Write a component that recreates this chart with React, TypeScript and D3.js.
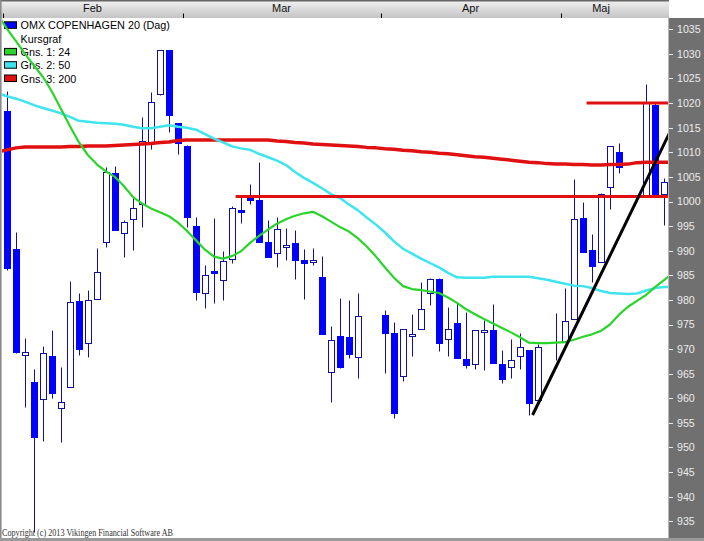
import React from "react";
import * as d3 from "d3";

// ---- data ----
// slot = weekday index counted from 1 Feb 2013; holidays are empty slots
const candleSlots = [
  0, 1, 2, 3, 4, 5, 6, 7, 8, 9, 10, 11, 12, 13, 14, 15, 16, 17, 18, 19,
  20, 21, 22, 23, 24, 25, 26, 27, 28, 29, 30, 31, 32, 33, 34, 35, 36, 37, 38, 39,
  42, 43, 44, 45, 46, 47, 48, 49, 50, 51, 52, 53, 54, 55, 56, 57, 58, 59,
  61, 62, 63, 64, 65, 66, 67, 68,
  71, 72, 73,
];
const opens = [
  1018.4, 990.3, 968.8, 963.3, 959.9, 968.6, 958.0, 962.3, 979.8, 971.3, 980.2, 991.8, 1005.8, 993.6, 996.4, 999.5, 1012.1, 1021.8, 1030.8, 1015.9,
  1011.3, 995.0, 981.4, 985.9, 984.0, 988.3, 998.3, 1000.9, 1000.3, 991.8, 989.5, 990.8, 991.6, 988.1, 987.7, 984.6, 965.3, 972.6, 972.4, 968.4,
  976.9, 973.3, 964.5, 972.7, 974.1, 981.4, 984.2, 972.0, 975.3, 968.0, 967.0, 973.5, 973.9, 967.0, 966.3, 968.6, 969.8, 959.7,
  973.5, 971.7, 976.1, 996.6, 990.1, 987.7, 1002.9, 1010.0,
  1001.3, 1019.6, 1001.5,
];
const highs = [
  1022.5, 993.8, 972.3, 966.0, 970.6, 973.9, 966.3, 983.8, 981.4, 982.0, 990.5, 1007.0, 1007.2, 996.2, 1000.7, 1017.2, 1022.3, 1030.8, 1030.8, 1016.0,
  1011.4, 996.9, 987.1, 996.6, 989.9, 999.1, 1000.9, 1003.6, 1008.0, 996.2, 996.8, 994.6, 994.2, 990.3, 990.5, 988.9, 974.7, 980.4, 980.0, 981.4,
  978.0, 975.5, 974.1, 977.1, 983.6, 984.5, 984.5, 978.6, 979.4, 977.5, 973.9, 975.9, 979.2, 969.8, 972.0, 973.3, 969.8, 971.0,
  977.3, 982.4, 1004.5, 999.9, 993.4, 1001.7, 1011.3, 1011.9,
  1023.9, 1020.0, 1004.8,
];
const lows = [
  986.0, 969.2, 958.2, 932.8, 951.3, 960.1, 951.1, 962.3, 968.8, 968.4, 980.2, 990.8, 994.2, 988.7, 990.1, 994.8, 1010.7, 1021.6, 1014.1, 1009.6,
  994.8, 980.0, 978.4, 979.4, 979.9, 987.5, 995.6, 999.5, 991.8, 988.7, 986.7, 988.1, 984.3, 980.2, 987.1, 973.1, 959.3, 966.1, 968.2, 964.1,
  965.1, 956.0, 963.5, 968.6, 974.1, 979.0, 969.6, 968.6, 968.2, 966.1, 965.9, 965.7, 967.2, 963.1, 964.1, 965.9, 956.6, 959.7,
  967.7, 971.7, 976.1, 989.7, 983.6, 987.7, 998.5, 1005.8,
  1001.3, 1001.3, 995.2,
];
const closes = [
  986.5, 969.4, 969.4, 952.1, 969.2, 961.1, 959.3, 979.6, 970.0, 980.0, 985.7, 1006.0, 994.2, 995.8, 998.7, 1012.3, 1020.2, 1030.8, 1017.6, 1011.9,
  996.8, 981.6, 985.1, 985.5, 987.9, 998.7, 997.9, 1000.3, 991.8, 988.7, 994.4, 991.2, 988.1, 987.5, 988.1, 973.1, 971.8, 966.3, 969.0, 976.7,
  973.3, 957.0, 974.1, 973.1, 978.2, 984.2, 971.2, 974.1, 968.2, 966.7, 973.9, 973.9, 967.2, 963.9, 967.8, 970.4, 959.1, 970.4,
  973.5, 975.7, 996.4, 989.7, 986.9, 1001.5, 1011.3, 1007.0,
  1020.0, 1001.3, 1004.0,
];

// moving averages, one value per slot starting at slot -1
const maFirstSlot = -1;
const ma24 = [
  1037.9, 1035.1, 1032.6, 1030.0, 1027.6, 1025.3, 1022.3, 1018.8, 1015.3, 1012.0, 1009.4, 1007.5, 1006.1, 1005.0, 1003.1, 1000.9,
  999.6, 998.6, 997.8, 997.0, 995.7, 994.0, 992.1, 990.2, 988.8, 988.4, 988.9, 989.9, 991.6, 993.0, 994.3, 995.5,
  996.4, 997.1, 997.6, 997.9, 997.0, 995.9, 994.8, 993.9, 992.5, 990.8, 988.8, 986.6, 984.5, 982.8, 982.2, 982.0,
  981.7, 981.4, 980.5, 979.4, 978.1, 977.1, 976.1, 975.2, 974.3, 973.4, 972.4, 971.3, 971.2, 971.2, 971.3, 971.4,
  971.9, 972.5, 973.0, 973.7, 975.0, 977.0, 978.6, 979.8, 981.0, 982.6, 984.0, 985.5,
];
const ma50 = [
  1022.0, 1021.4, 1020.9, 1020.3, 1019.6, 1019.0, 1018.5, 1017.9, 1017.2, 1016.4, 1016.2, 1016.0, 1015.9, 1015.8, 1015.6, 1015.2,
  1014.9, 1014.9, 1015.2, 1015.5, 1015.2, 1015.0, 1014.6, 1013.7, 1012.8, 1012.0, 1011.2, 1010.8, 1010.5, 1009.7, 1009.0, 1008.3,
  1007.4, 1006.0, 1004.8, 1003.8, 1002.7, 1001.5, 1000.7, 999.4, 998.2, 996.7, 995.3, 993.7, 991.9, 990.4, 989.4, 988.4,
  987.5, 986.6, 985.5, 984.6, 984.5, 984.5, 984.5, 984.7, 984.7, 984.7, 984.7, 984.7, 984.4, 984.1, 983.7, 983.3,
  982.9, 982.8, 982.4, 981.8, 981.4, 981.3, 981.2, 981.3, 981.9, 982.4, 982.6, 982.6,
];
const ma200 = [
  1010.1, 1010.5, 1010.9, 1011.1, 1011.1, 1011.1, 1011.1, 1011.1, 1011.2, 1011.2, 1011.3, 1011.3, 1011.3, 1011.4, 1011.5, 1011.6,
  1011.7, 1011.8, 1012.0, 1012.1, 1012.4, 1012.5, 1012.5, 1012.5, 1012.5, 1012.5, 1012.5, 1012.5, 1012.5, 1012.5, 1012.5, 1012.3,
  1012.2, 1012.0, 1011.9, 1011.7, 1011.6, 1011.5, 1011.4, 1011.3, 1011.2, 1011.0, 1010.9, 1010.7, 1010.6, 1010.4, 1010.3, 1010.1,
  1010.0, 1009.8, 1009.7, 1009.5, 1009.3, 1009.1, 1009.0, 1008.8, 1008.6, 1008.4, 1008.2, 1008.0, 1007.9, 1007.7, 1007.6, 1007.6,
  1007.5, 1007.5, 1007.4, 1007.4, 1007.5, 1007.5, 1007.6, 1007.9, 1008.0, 1008.0, 1008.0, 1008.0,
];

const priceTicks = [935, 940, 945, 950, 955, 960, 965, 970, 975, 980, 985, 990, 995, 1000, 1005, 1010, 1015, 1020, 1025, 1030, 1035];

const monthLabels = ["Feb", "Mar", "Apr", "Maj"];
const monthBoundarySlots = [-0.5, 19.5, 41.5, 61.5, 70.5];

const legendLabels = ["OMX COPENHAGEN 20 (Dag)", "Kursgraf", "Gns. 1: 24", "Gns. 2: 50", "Gns. 3: 200"];

// user-drawn lines
const levelPrices = [1001, 1020];
const levelStartSlots = [25.4, 64.4];
const trendSlots = [58.4, 73.6];
const trendPrices = [956.6, 1013.9];

// ---- styles ----
const GREEN = "#2bd42b";
const CYAN = "#3ee4ee";
const RED = "#e01010";
const BLUE = "#0000ff";
const NAVY = "#10109a";
const legendColors = [BLUE, null, GREEN, CYAN, RED];

export default function App() {
  const W = 704;
  const H = 541;
  const plot = { left: 2, right: 669, top: 18, bottom: 538 };

  const x = d3.scaleLinear().domain([0, 73]).range([7, 664]);
  const y = d3.scaleLinear().domain([935, 1035]).range([521.3, 29.3]);

  const line = d3
    .line<[number, number]>()
    .x((d) => x(d[0]))
    .y((d) => y(d[1]));
  const maPath = (arr: number[]) => line(arr.map((v, i) => [maFirstSlot + i, v] as [number, number])) || "";

  const font = "'Liberation Sans', Arial, Helvetica, sans-serif";

  const candles = candleSlots.map((s, i) => {
    const o = opens[i];
    const c = closes[i];
    const h = highs[i];
    const l = lows[i];
    const px = Math.round(x(s));
    const up = c >= o;
    const yTop = Math.round(y(Math.max(o, c))) + 0.5;
    const yBot = Math.round(y(Math.min(o, c))) + 0.5;
    const yH = Math.round(y(h)) + 0.5;
    const yL = Math.round(y(l)) + 0.5;
    return (
      <g key={"c" + s}>
        <line x1={px + 0.5} x2={px + 0.5} y1={yH} y2={yL} stroke={NAVY} strokeWidth={1} />
        {o !== c && (
          <rect
            x={px - 2.5}
            y={yTop}
            width={6}
            height={Math.max(yBot - yTop, 1)}
            fill={up ? "#ffffff" : BLUE}
            stroke={up ? NAVY : BLUE}
            strokeWidth={1}
          />
        )}
      </g>
    );
  });

  const legendBase = 29.3;
  const legendStep = 13.3;

  return (
    <svg
      width={W}
      height={H}
      viewBox={`0 0 ${W} ${H}`}
      style={{ position: "absolute", left: 0, top: 0, display: "block" }}
      fontFamily={font}
    >
      <defs>
        <linearGradient id="hdrGrad" x1="0" y1="0" x2="0" y2="1">
          <stop offset="0" stopColor="#f2f2f2" />
          <stop offset="1" stopColor="#c4c4c4" />
        </linearGradient>
        <clipPath id="plotClip">
          <rect x={plot.left} y={plot.top} width={plot.right - plot.left} height={plot.bottom - plot.top} />
        </clipPath>
      </defs>

      <rect x={0} y={0} width={W} height={H} fill="#ffffff" />

      {/* legend */}
      {legendLabels.map((lab, i) => {
        const base = legendBase + i * legendStep;
        const col = legendColors[i];
        return (
          <g key={"lg" + i}>
            {col && (
              <rect x={4.5} y={base - 7.5} width={12} height={6.5} fill={col} stroke="#000" strokeWidth={1} />
            )}
            <text x={20.5} y={base} fontSize={10.8} fill="#000">
              {lab}
            </text>
          </g>
        );
      })}

      <g clipPath="url(#plotClip)">
        {candles}
        <path d={maPath(ma200)} fill="none" stroke={RED} strokeWidth={3.5} strokeLinejoin="round" />
        <path d={maPath(ma50)} fill="none" stroke={CYAN} strokeWidth={2.5} strokeLinejoin="round" />
        <path d={maPath(ma24)} fill="none" stroke={GREEN} strokeWidth={2.2} strokeLinejoin="round" />
        {levelPrices.map((p, i) => (
          <line
            key={"lv" + i}
            x1={x(levelStartSlots[i])}
            x2={plot.right}
            y1={y(p)}
            y2={y(p)}
            stroke={RED}
            strokeWidth={3}
          />
        ))}
        <line
          x1={x(trendSlots[0])}
          y1={y(trendPrices[0])}
          x2={x(trendSlots[1])}
          y2={y(trendPrices[1])}
          stroke="#000"
          strokeWidth={3}
        />
      </g>

      {/* header with months */}
      <rect x={0} y={0} width={plot.right} height={plot.top} fill="url(#hdrGrad)" />
      <rect x={0} y={0} width={plot.right} height={1.5} fill="#666" />
      {monthBoundarySlots.slice(0, 4).map((b, i) => (
        <line
          key={"mt" + i}
          x1={Math.round(x(b)) + 0.5}
          x2={Math.round(x(b)) + 0.5}
          y1={13.5}
          y2={18}
          stroke="#000"
          strokeWidth={1}
        />
      ))}
      {monthLabels.map((m, i) => (
        <text
          key={"ml" + i}
          x={x((monthBoundarySlots[i] + monthBoundarySlots[i + 1]) / 2)}
          y={11.8}
          fontSize={11}
          textAnchor="middle"
          fill="#111"
        >
          {m}
        </text>
      ))}

      {/* right price axis */}
      <rect x={plot.right} y={plot.top} width={W - plot.right} height={H - plot.top} fill="#707070" />
      <line x1={plot.right - 0.5} x2={plot.right - 0.5} y1={plot.top} y2={H} stroke="#b8b8b8" strokeWidth={1} />
      {priceTicks.map((t) => (
        <g key={"pt" + t}>
          <line
            x1={plot.right}
            x2={plot.right + 4}
            y1={Math.round(y(t)) + 0.5}
            y2={Math.round(y(t)) + 0.5}
            stroke="#e8e8e8"
            strokeWidth={1}
          />
          <text x={677} y={y(t)} dy="0.36em" fontSize={10.6} fill="#ececec">
            {t}
          </text>
        </g>
      ))}

      {/* frame */}
      <rect x={0} y={0} width={1.6} height={H} fill="#8a8a8a" />
      <rect x={0} y={plot.bottom} width={W} height={H - plot.bottom} fill="#9a9a9a" />

      <text
        x={2}
        y={536}
        fontSize={9.5}
        fontFamily="'Liberation Serif', 'DejaVu Serif', serif"
        fill="#333"
        textLength={171}
        lengthAdjust="spacingAndGlyphs"
      >
        Copyright (c) 2013 Vikingen Financial Software AB
      </text>
    </svg>
  );
}
